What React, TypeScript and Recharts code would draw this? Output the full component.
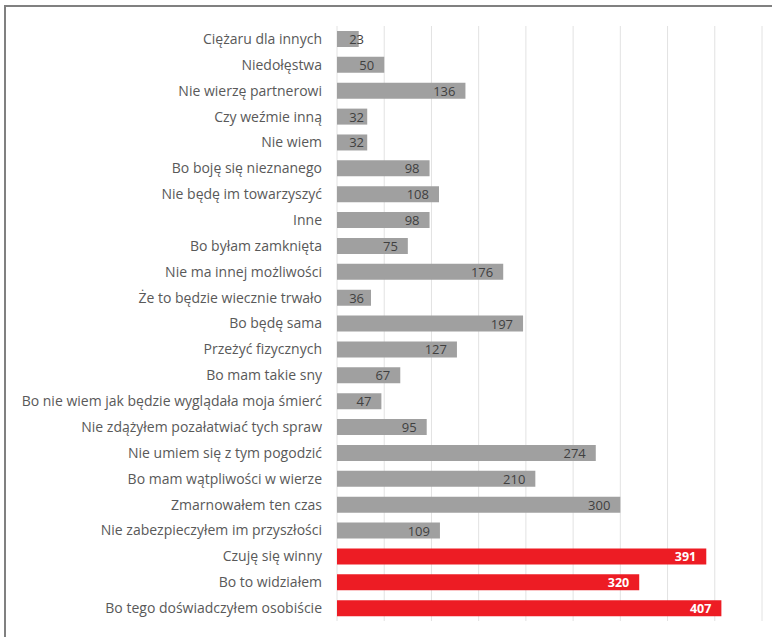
import React from "react";
import { BarChart, Bar, XAxis, YAxis, CartesianGrid, Cell, LabelList } from "recharts";

const categories = [
  "Ciężaru dla innych",
  "Niedołęstwa",
  "Nie wierzę partnerowi",
  "Czy weźmie inną",
  "Nie wiem",
  "Bo boję się nieznanego",
  "Nie będę im towarzyszyć",
  "Inne",
  "Bo byłam zamknięta",
  "Nie ma innej możliwości",
  "Że to będzie wiecznie trwało",
  "Bo będę sama",
  "Przeżyć fizycznych",
  "Bo mam takie sny",
  "Bo nie wiem jak będzie wyglądała moja śmierć",
  "Nie zdążyłem pozałatwiać tych spraw",
  "Nie umiem się z tym pogodzić",
  "Bo mam wątpliwości w wierze",
  "Zmarnowałem ten czas",
  "Nie zabezpieczyłem im przyszłości",
  "Czuję się winny",
  "Bo to widziałem",
  "Bo tego doświadczyłem osobiście",
];

const counts = [23, 50, 136, 32, 32, 98, 108, 98, 75, 176, 36, 197, 127, 67, 47, 95, 274, 210, 300, 109, 391, 320, 407];

// last three answers are highlighted in red
const highlighted = [
  "Czuję się winny",
  "Bo to widziałem",
  "Bo tego doświadczyłem osobiście",
];

const xTicks = [0, 50, 100, 150, 200, 250, 300, 350, 400, 450];

const GRAY = "#a0a0a0";
const RED = "#ed1c24";
const FONT = "'Open Sans', sans-serif";

const data = categories.map((name, i) => ({
  name,
  value: counts[i],
  hot: highlighted.includes(name),
}));

function ValueLabel(props: any) {
  const { x, y, width, height, value, index } = props;
  const hot = data[index]?.hot;
  const endX = Math.max(x + width - 10, x + 27);
  return (
    <text
      x={endX}
      y={y + height / 2}
      textAnchor="end"
      dominantBaseline="central"
      fontFamily={FONT}
      fontSize={hot ? 12.5 : 13}
      fontWeight={hot ? 700 : 400}
      fill={hot ? "#ffffff" : "#404040"}
    >
      {value}
    </text>
  );
}

export default function App() {
  return (
    <div style={{ position: "absolute", left: 0, top: 0, width: 772, height: 637, background: "#fff", overflow: "hidden" }}>
      <div
        style={{
          position: "absolute",
          left: 4,
          top: 5,
          right: -10,
          bottom: -10,
          borderTop: "2px solid #808080",
          borderLeft: "2px solid #808080",
        }}
      />
      <div style={{ position: "absolute", left: 0, top: 0 }}>
        <BarChart
          width={772}
          height={637}
          data={data}
          layout="vertical"
          margin={{ top: 26, right: 10, bottom: 16, left: 0 }}
          barSize={16}
        >
          <CartesianGrid horizontal={false} stroke="#e2e2e2" strokeWidth={1} />
          <XAxis type="number" domain={[0, 450]} ticks={xTicks} hide />
          <YAxis
            type="category"
            dataKey="name"
            width={337}
            axisLine={false}
            tickLine={false}
            tickSize={0}
            tickMargin={15}
            interval={0}
            tick={{ fontSize: 14, fill: "#595959", fontFamily: FONT }}
          />
          <Bar dataKey="value" isAnimationActive={false}>
            {data.map((d) => (
              <Cell key={d.name} fill={d.hot ? RED : GRAY} />
            ))}
            <LabelList dataKey="value" content={<ValueLabel />} />
          </Bar>
        </BarChart>
      </div>
    </div>
  );
}
